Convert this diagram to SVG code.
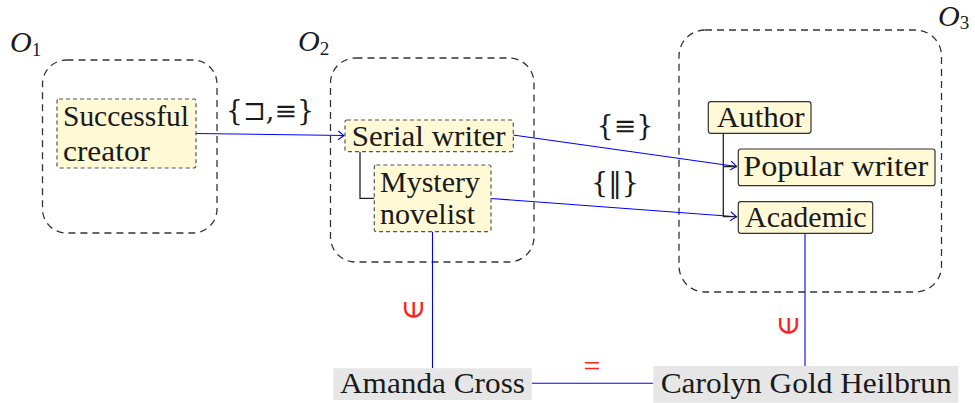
<svg xmlns="http://www.w3.org/2000/svg" width="975" height="403" viewBox="0 0 975 403">
<defs>
<style>
.t{font-family:'Liberation Serif','DejaVu Serif',serif;font-size:30px;fill:#1a1a1a}
.m{font-family:'DejaVu Serif',serif;font-size:27px;fill:#1a1a1a}
.o{font-family:'Liberation Serif','DejaVu Serif',serif;font-size:30px;font-style:italic;fill:#1a1a1a}
.sub{font-size:19px;font-style:normal}
.cont{fill:none;stroke:#333;stroke-width:1.3;stroke-dasharray:7 5}
.nd{fill:#fff9d6;stroke:#555;stroke-width:1.2;stroke-dasharray:4 3}
.ns{fill:#fff9d6;stroke:#333;stroke-width:1.2}
.ng{fill:#e6e6e6;stroke:none}
.tree{fill:none;stroke:#222;stroke-width:1.3}
.e{fill:none;stroke:#0000ff;stroke-width:1.1}
.red{font-family:'Liberation Serif','DejaVu Serif',serif;font-size:30px;fill:#ff2020}
</style>
<marker id="arr" markerWidth="12" markerHeight="12" refX="0" refY="0" viewBox="-8 -6 10 12" orient="auto" markerUnits="userSpaceOnUse">
<path d="M-6,-4.5 Q-1.5,-1 0,0 Q-1.5,1 -6,4.5" fill="none" stroke="#0000ff" stroke-width="1.1"/>
</marker>
</defs>
<rect width="975" height="403" fill="#fff"/>

<g id="O1">
<rect class="cont" x="42.5" y="60" width="174.5" height="173" rx="24"/>
<text class="o" x="10" y="52">O<tspan class="sub" dy="4">1</tspan></text>
</g>
<g id="O2">
<rect class="cont" x="330.5" y="58" width="203.5" height="204" rx="25"/>
<text class="o" x="298" y="51">O<tspan class="sub" dy="4">2</tspan></text>
</g>
<g id="O3">
<rect class="cont" x="679" y="30" width="262.5" height="262" rx="26"/>
<text class="o" x="938" y="26" font-size="27">O<tspan class="sub" dy="3">3</tspan></text>
</g>

<g id="connectors">
<path class="e" d="M196,133.5 L344,135.5" marker-end="url(#arr)"/>
<path class="e" d="M513,135 L736.5,166.5" marker-end="url(#arr)"/>
<path class="e" d="M491,198.5 L736.5,216.7" marker-end="url(#arr)"/>
<path class="tree" d="M360,151.7 V198.3 H374.3"/>
<path class="tree" d="M723.3,133.3 V216.7 M723.3,166.5 H737 M723.3,216.7 H737"/>
<path class="e" d="M432.5,231.7 V368.3"/>
<path class="e" d="M805,233.3 V366"/>
<path class="e" d="M531.7,383.3 H653.3"/>
<text class="m" x="270" y="120" text-anchor="middle">{⊐,≡}</text>
<text class="m" x="625" y="135" text-anchor="middle">{≡}</text>
<text class="m" x="615" y="192" text-anchor="middle">{‖}</text>
<text class="red" transform="translate(412,310) rotate(-90)" x="0" y="0" text-anchor="middle" dominant-baseline="central">∈</text>
<text class="red" transform="translate(787,326) rotate(-90)" x="0" y="0" text-anchor="middle" dominant-baseline="central">∈</text>
<text class="red" x="592" y="376" text-anchor="middle">=</text>
</g>

<g id="successful-creator">
<rect class="nd" x="57" y="99" width="139" height="69" rx="2"/>
<text class="t" x="63" y="126" textLength="126" lengthAdjust="spacingAndGlyphs">Successful</text>
<text class="t" x="63" y="161" textLength="87" lengthAdjust="spacingAndGlyphs">creator</text>
</g>
<g id="serial-writer">
<rect class="nd" x="345" y="120" width="168.3" height="31.7" rx="2"/>
<text class="t" x="351.7" y="146" textLength="154" lengthAdjust="spacingAndGlyphs">Serial writer</text>
</g>
<g id="mystery-novelist">
<rect class="nd" x="374.3" y="165" width="116.7" height="66.7" rx="2"/>
<text class="t" x="380" y="191.7" textLength="100" lengthAdjust="spacingAndGlyphs">Mystery</text>
<text class="t" x="380" y="224" textLength="95" lengthAdjust="spacingAndGlyphs">novelist</text>
</g>
<g id="author">
<rect class="ns" x="708.3" y="101.7" width="102.7" height="31.6" rx="2.5"/>
<text class="t" x="716.7" y="127" textLength="88" lengthAdjust="spacingAndGlyphs">Author</text>
</g>
<g id="popular-writer">
<rect class="ns" x="738.3" y="149" width="196.7" height="36.7" rx="2.5"/>
<text class="t" x="743.3" y="176" textLength="185" lengthAdjust="spacingAndGlyphs">Popular writer</text>
</g>
<g id="academic">
<rect class="ns" x="738.3" y="201.7" width="134.4" height="31.6" rx="2.5"/>
<text class="t" x="745" y="227.3" textLength="121.7" lengthAdjust="spacingAndGlyphs">Academic</text>
</g>
<g id="amanda-cross">
<rect class="ng" x="333.3" y="368.3" width="198.4" height="31.7"/>
<text class="t" x="340" y="393.3" textLength="185" lengthAdjust="spacingAndGlyphs">Amanda Cross</text>
</g>
<g id="carolyn-gold-heilbrun">
<rect class="ng" x="653.3" y="366" width="305" height="36.7"/>
<text class="t" x="660.7" y="393" textLength="291" lengthAdjust="spacingAndGlyphs">Carolyn Gold Heilbrun</text>
</g>
</svg>
